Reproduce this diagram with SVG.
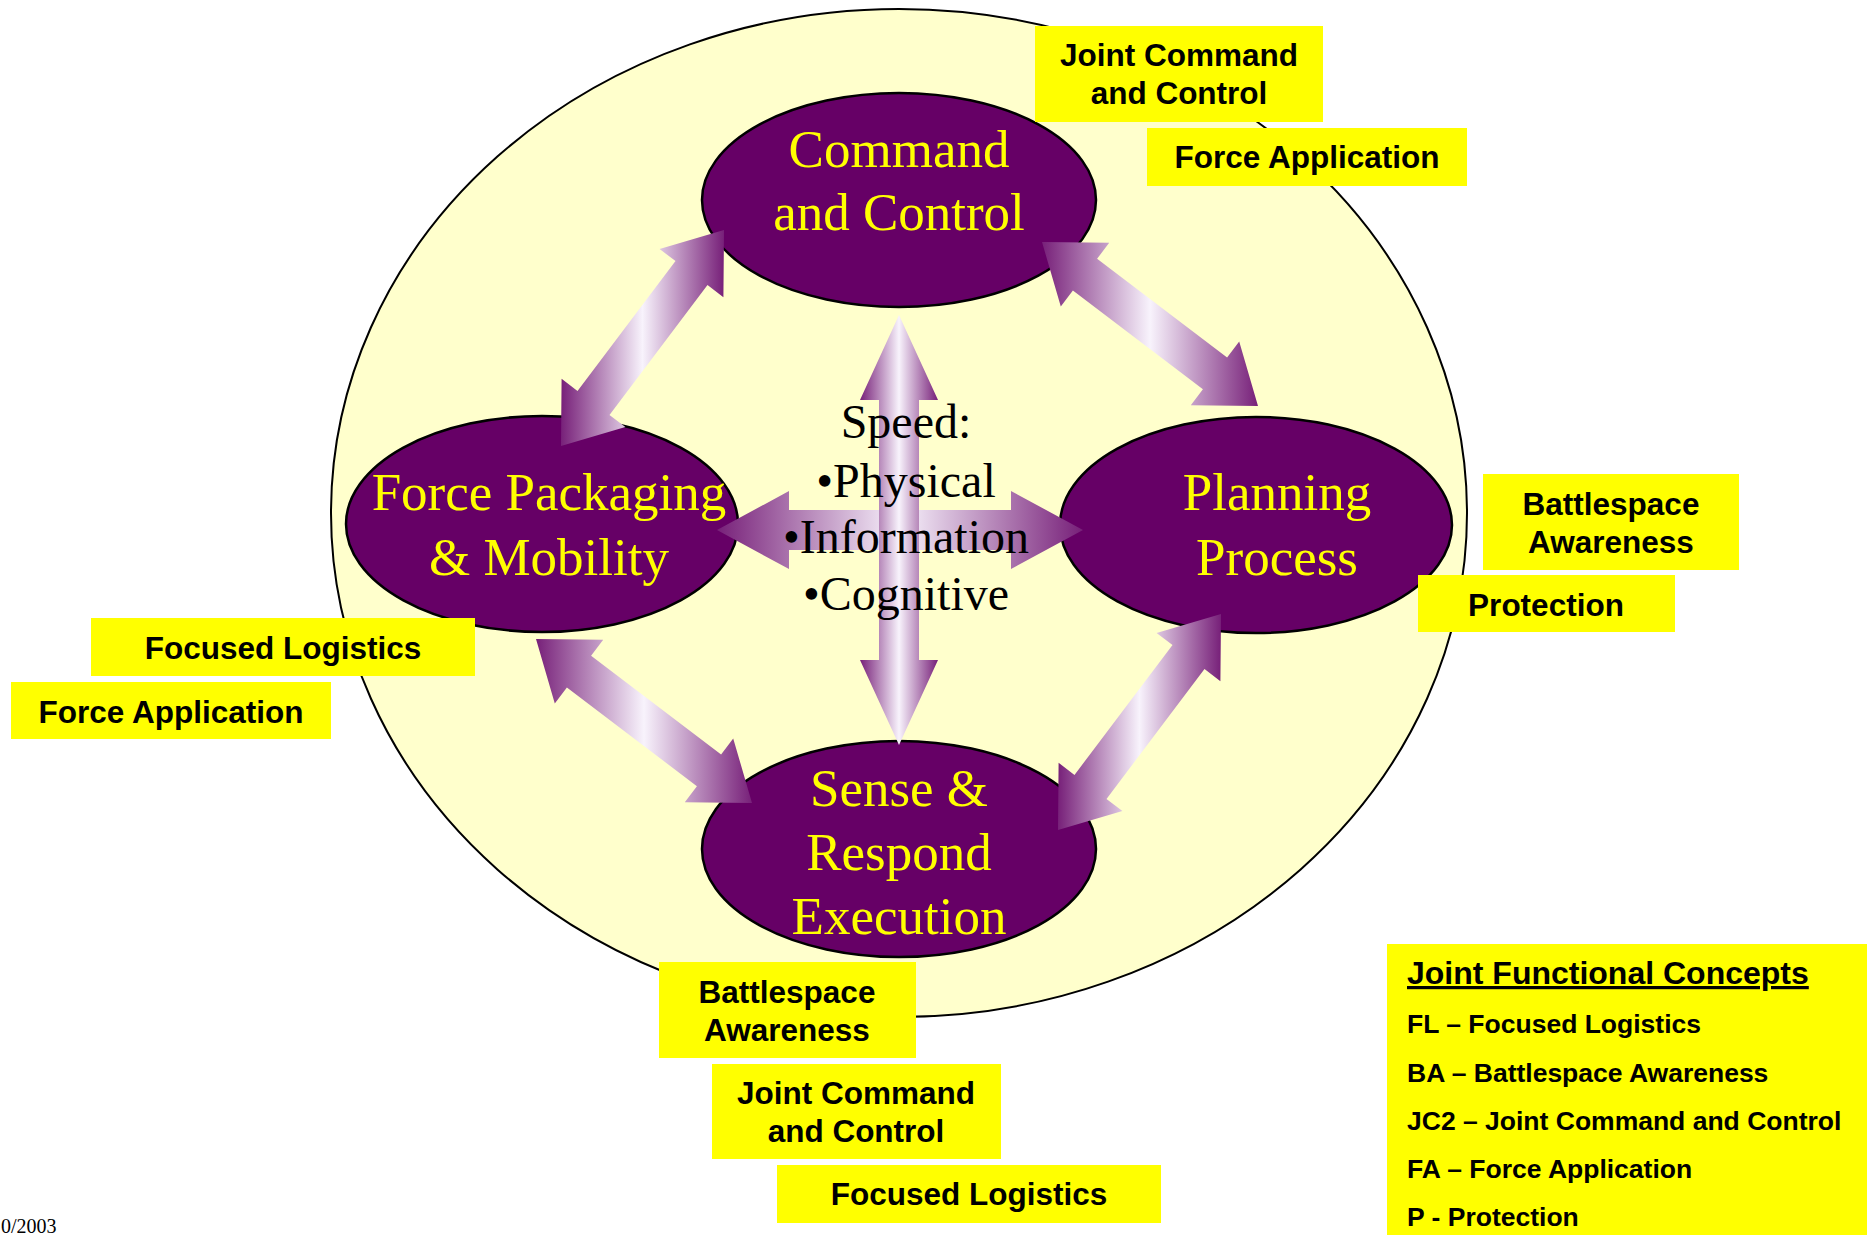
<svg xmlns="http://www.w3.org/2000/svg" width="1872" height="1235" viewBox="0 0 1872 1235">
<defs>
<linearGradient id="arrowGrad" x1="0" y1="0" x2="1" y2="0">
<stop offset="0" stop-color="#772079"/>
<stop offset="0.5" stop-color="#F8F3FC"/>
<stop offset="1" stop-color="#772079"/>
</linearGradient>
<style>
.node{fill:#660066;stroke:#000;stroke-width:2.5}
.ntext{font-family:"Liberation Serif","Times New Roman",serif;font-size:53px;fill:#FFFF00;text-anchor:middle}
.speed{font-family:"Liberation Serif","Times New Roman",serif;font-size:48px;fill:#000;text-anchor:middle}
.arrow{fill:url(#arrowGrad)}
.lbox{fill:#FFFF00}
.ltext{font-family:"Liberation Sans",Arial,sans-serif;font-weight:bold;font-size:31.5px;fill:#000;text-anchor:middle}
.leg{font-family:"Liberation Sans",Arial,sans-serif;font-weight:bold;font-size:26.5px;fill:#000}
</style>
</defs>
<rect width="1872" height="1235" fill="#fff"/>
<g id="outer-ellipse">
<ellipse cx="899" cy="513" rx="568" ry="504" fill="#FFFFCC" stroke="#000" stroke-width="2"/>
</g>
<g id="node-command-control">
<ellipse class="node" cx="899" cy="200" rx="197" ry="107"/>
</g>
<g id="node-force-packaging">
<ellipse class="node" cx="542" cy="524" rx="196" ry="108"/>
</g>
<g id="node-planning">
<ellipse class="node" cx="1256" cy="525" rx="196" ry="108"/>
</g>
<g id="node-sense-respond">
<ellipse class="node" cx="899" cy="849" rx="197" ry="108"/>
</g>
<g id="connectors">
<polygon class="arrow" points="561,446 625.4,427 609.5,414.9 707.5,285.1 723.4,297.2 724,230 659.6,249 675.5,261.1 577.5,390.9 561.6,378.8"/>
<polygon class="arrow" transform="translate(497,384)" points="561,446 625.4,427 609.5,414.9 707.5,285.1 723.4,297.2 724,230 659.6,249 675.5,261.1 577.5,390.9 561.6,378.8"/>
<polygon class="arrow" points="1042,242 1060.8,306.6 1072.9,290.6 1202.9,389.2 1190.8,405.2 1258,406 1239.2,341.4 1227.1,357.4 1097.1,258.8 1109.2,242.8"/>
<polygon class="arrow" transform="translate(-506,397)" points="1042,242 1060.8,306.6 1072.9,290.6 1202.9,389.2 1190.8,405.2 1258,406 1239.2,341.4 1227.1,357.4 1097.1,258.8 1109.2,242.8"/>
<polygon class="arrow" points="717,530 789,491 789,510 1011,510 1011,491 1083,530 1011,569 1011,550 789,550 789,569"/>
<polygon class="arrow" points="899,315 938,400 919,400 919,660 938,660 899,745 860,660 879,660 879,400 860,400"/>
</g>
<g id="node-text">
<text class="ntext" x="899" y="167">Command</text>
<text class="ntext" x="899" y="230">and Control</text>
<text class="ntext" x="549" y="510">Force Packaging</text>
<text class="ntext" x="549" y="575">&amp; Mobility</text>
<text class="ntext" x="1277" y="510">Planning</text>
<text class="ntext" x="1277" y="575">Process</text>
<text class="ntext" x="899" y="806">Sense &amp;</text>
<text class="ntext" x="899" y="870">Respond</text>
<text class="ntext" x="899" y="934">Execution</text>
</g>
<g id="speed-text">
<text class="speed" x="906" y="438">Speed:</text>
<text class="speed" x="906" y="497">•Physical</text>
<text class="speed" x="906" y="553">•Information</text>
<text class="speed" x="906" y="610">•Cognitive</text>
</g>
<g id="label-jc2-top">
<rect class="lbox" x="1035" y="26" width="288" height="96"/>
<text class="ltext" x="1179" y="66">Joint Command</text>
<text class="ltext" x="1179" y="104">and Control</text>
</g>
<g id="label-fa-top">
<rect class="lbox" x="1147" y="128" width="320" height="58"/>
<text class="ltext" x="1307" y="168">Force Application</text>
</g>
<g id="label-ba-right">
<rect class="lbox" x="1483" y="474" width="256" height="96"/>
<text class="ltext" x="1611" y="515">Battlespace</text>
<text class="ltext" x="1611" y="553">Awareness</text>
</g>
<g id="label-p-right">
<rect class="lbox" x="1418" y="575" width="257" height="57"/>
<text class="ltext" x="1546" y="616">Protection</text>
</g>
<g id="label-fl-left">
<rect class="lbox" x="91" y="618" width="384" height="58"/>
<text class="ltext" x="283" y="659">Focused Logistics</text>
</g>
<g id="label-fa-left">
<rect class="lbox" x="11" y="682" width="320" height="57"/>
<text class="ltext" x="171" y="723">Force Application</text>
</g>
<g id="label-ba-bottom">
<rect class="lbox" x="659" y="962" width="257" height="96"/>
<text class="ltext" x="787" y="1003">Battlespace</text>
<text class="ltext" x="787" y="1041">Awareness</text>
</g>
<g id="label-jc2-bottom">
<rect class="lbox" x="712" y="1064" width="289" height="95"/>
<text class="ltext" x="856" y="1104">Joint Command</text>
<text class="ltext" x="856" y="1142">and Control</text>
</g>
<g id="label-fl-bottom">
<rect class="lbox" x="777" y="1165" width="384" height="58"/>
<text class="ltext" x="969" y="1205">Focused Logistics</text>
</g>
<g id="legend">
<rect class="lbox" x="1387" y="944" width="480" height="291"/>
<text class="leg" x="1407" y="984" text-decoration="underline" style="font-size:32px">Joint Functional Concepts</text>
<text class="leg" x="1407" y="1033">FL – Focused Logistics</text>
<text class="leg" x="1407" y="1082">BA – Battlespace Awareness</text>
<text class="leg" x="1407" y="1130">JC2 – Joint Command and Control</text>
<text class="leg" x="1407" y="1178">FA – Force Application</text>
<text class="leg" x="1407" y="1226">P - Protection</text>
</g>
<g id="date">
<text x="1" y="1233" font-family="'Liberation Serif','Times New Roman',serif" font-size="20" fill="#000">0/2003</text>
</g>
</svg>
